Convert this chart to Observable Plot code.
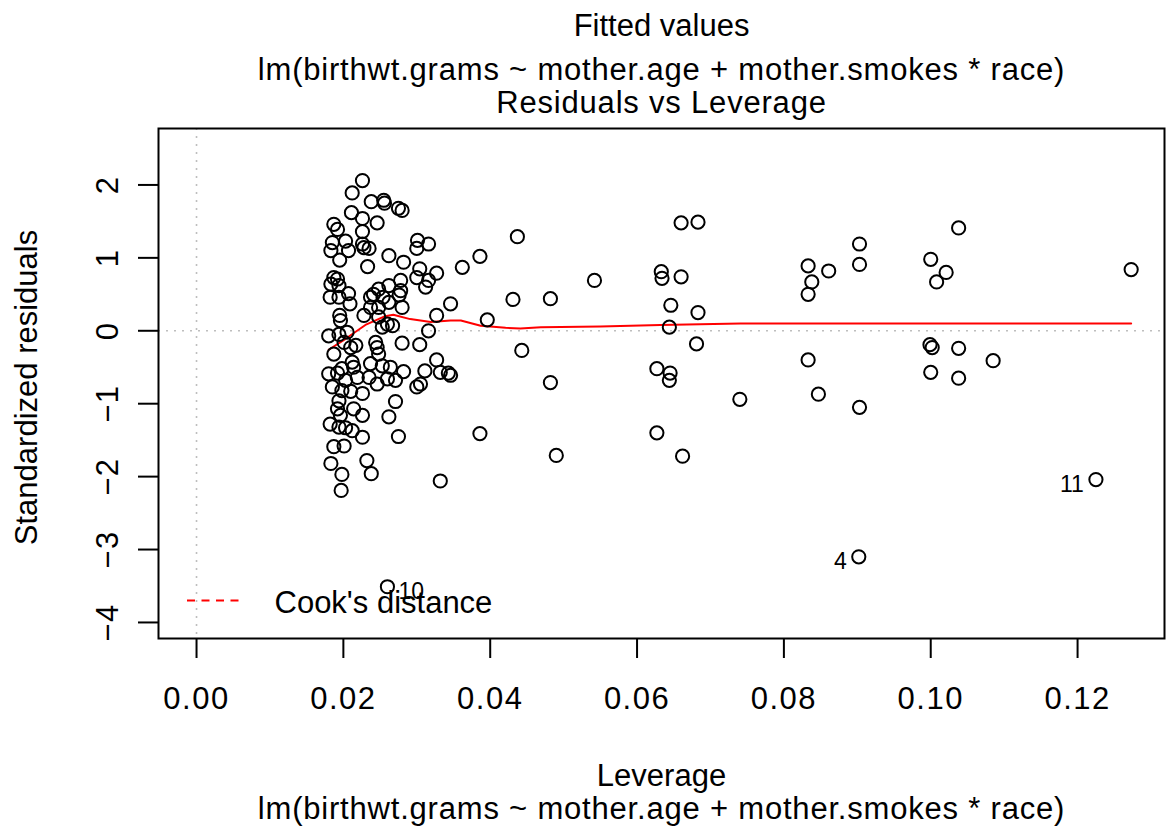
<!DOCTYPE html>
<html>
<head>
<meta charset="utf-8">
<script src="https://cdn.jsdelivr.net/npm/d3@7"></script>
<script src="https://cdn.jsdelivr.net/npm/@observablehq/plot@0.6"></script>
<style>
  body { margin: 0; background: #ffffff; }
  svg { display: block; }
</style>
</head>
<body>
<div id="chart"></div>
<script>
// Residuals vs Leverage diagnostic for
// lm(birthwt.grams ~ mother.age + mother.smokes * race)

// Case ids of the three flagged observations (first three entries below)
const flaggedIds = ["10", "4", "11"];

// Leverage (hat values) of each observation
const leverage = [
  0.0260, 0.0902, 0.1225,
  0.0833, 0.0861, 0.0838, 0.0833, 0.0903, 0.0903, 0.1000, 0.1021, 0.1008, 0.1038,
  0.1273, 0.0833, 0.0847, 0.0903, 0.0999, 0.1002, 0.1038, 0.1085, 0.1000, 0.1038,
  0.0362, 0.0386, 0.0437, 0.0396, 0.0431, 0.0482, 0.0542, 0.0443, 0.0482, 0.0386,
  0.0490, 0.0660, 0.0683, 0.0633, 0.0634, 0.0660, 0.0646, 0.0683, 0.0644, 0.0681,
  0.0627, 0.0645, 0.0644, 0.0627, 0.0662, 0.0740,
  0.0226, 0.0212, 0.0238, 0.0255, 0.0256, 0.0275, 0.0280, 0.0211, 0.0226, 0.0246,
  0.0187, 0.0192, 0.0226, 0.0185, 0.0203, 0.0226, 0.0228, 0.0235, 0.0183, 0.0207,
  0.0301, 0.0316, 0.0300, 0.0195, 0.0262, 0.0282, 0.0233, 0.0304, 0.0327, 0.0300,
  0.0316, 0.0312, 0.0187, 0.0192, 0.0183, 0.0194, 0.0182, 0.0194, 0.0207, 0.0209,
  0.0278, 0.0262, 0.0248, 0.0241, 0.0237, 0.0276, 0.0278, 0.0254, 0.0262, 0.0237,
  0.0248, 0.0280, 0.0346, 0.0327, 0.0228, 0.0248, 0.0195, 0.0196, 0.0260, 0.0267,
  0.0253, 0.0316, 0.0180, 0.0194, 0.0205,
  0.0201, 0.0217, 0.0210, 0.0187, 0.0244, 0.0246, 0.0248, 0.0280, 0.0304, 0.0327,
  0.0311, 0.0332, 0.0343, 0.0346, 0.0305, 0.0300, 0.0282, 0.0271, 0.0260, 0.0246,
  0.0264, 0.0253, 0.0237, 0.0235, 0.0212, 0.0214, 0.0198, 0.0192, 0.0180, 0.0203,
  0.0219, 0.0185, 0.0198, 0.0210, 0.0226, 0.0194, 0.0271, 0.0192, 0.0214, 0.0226,
  0.0262, 0.0196, 0.0182, 0.0194, 0.0203, 0.0212, 0.0226, 0.0275, 0.0187, 0.0201,
  0.0183, 0.0232, 0.0198, 0.0238, 0.0332, 0.0197
];

// Standardized residuals, same order as leverage
const stdResid = [
  -3.51, -3.10, -2.04,
  0.89, 0.82, 0.67, 0.50, 1.19, 0.91, 0.98, 0.80, 0.67, 1.41,
  0.84, -0.40, -0.87, -1.05, -0.19, -0.23, -0.24, -0.41, -0.57, -0.65,
  0.87, 1.02, 1.29, 0.15, 0.43, 0.44, 0.69, -0.27, -0.71, -1.41,
  -1.71, 1.48, 1.49, 0.81, 0.72, 0.74, 0.35, 0.25, 0.05, -0.18,
  -0.52, -0.58, -0.68, -1.40, -1.72, -0.94,
  2.06, 1.89, 1.77, 1.79, 1.75, 1.68, 1.65, 1.62, 1.54, 1.48,
  1.46, 1.39, 1.36, 1.21, 1.23, 1.19, 1.14, 1.13, 1.10, 1.10,
  1.24, 1.19, 1.13, 0.97, 1.03, 0.94, 0.88, 0.85, 0.79, 0.73,
  0.69, 0.60, 0.73, 0.71, 0.64, 0.62, 0.46, 0.46, 0.51, 0.37,
  0.69, 0.62, 0.57, 0.50, 0.46, 0.49, 0.55, 0.46, 0.39, 0.32,
  0.32, 0.32, 0.37, 0.21, 0.21, 0.19, 0.21, 0.14, 0.09, 0.07,
  0.05, 0.00, -0.07, -0.05, -0.02,
  -0.16, -0.20, -0.23, -0.32, -0.16, -0.23, -0.32, -0.17, -0.19, -0.40,
  -0.55, -0.57, -0.58, -0.61, -0.73, -0.77, -0.56, -0.68, -0.66, -0.73,
  -0.50, -0.48, -0.45, -0.64, -0.43, -0.50, -0.52, -0.58, -0.59, -0.68,
  -0.64, -0.77, -0.82, -0.83, -0.86, -0.96, -0.97, -1.07, -1.07, -1.16,
  -1.18, -1.16, -1.28, -1.32, -1.33, -1.37, -1.46, -1.45, -1.59, -1.58,
  -1.82, -1.78, -1.97, -1.96, -2.06, -2.19
];

// Smoothed trend of the residuals against leverage
const smoothLeverage = [0.0180, 0.0203, 0.0230, 0.0257, 0.0268, 0.0291, 0.0319, 0.0346, 0.0360,
  0.0387, 0.0421, 0.0441, 0.0469, 0.0550, 0.0632, 0.0686, 0.0741, 0.0900, 0.1100, 0.1273];
const smoothResid = [-0.26, -0.11, 0.08, 0.20, 0.22, 0.16, 0.12, 0.14, 0.14,
  0.07, 0.04, 0.03, 0.05, 0.06, 0.08, 0.09, 0.10, 0.10, 0.10, 0.10];

const xTicks = [0.00, 0.02, 0.04, 0.06, 0.08, 0.10, 0.12];
const yTicks = [-4, -3, -2, -1, 0, 1, 2];

const modelText = "lm(birthwt.grams ~ mother.age + mother.smokes * race)";
const titleLines = ["Fitted values", modelText, "Residuals vs Leverage"];
const xTitleLines = ["Leverage", modelText];
const yTitle = "Standardized residuals";
const legendText = "Cook's distance";

// Tables built from the arrays above
const points = leverage.map((h, i) => ({h, r: stdResid[i]}));
const flagged = flaggedIds.map((id, i) => ({
  id, h: leverage[i], r: stdResid[i],
  right: leverage[i] < 0.065
}));
const smooth = smoothLeverage.map((h, i) => ({h, r: smoothResid[i]}));

const FONT = "'Liberation Sans', Arial, Helvetica, sans-serif";
const FS = 31;

// Dashed red sample line of the legend, placed in the lower-left of the frame
function legendLine(index, scales, values, dims) {
  const yy = dims.height - dims.marginBottom - 37.5;
  return d3.create("svg:line")
    .attr("x1", dims.marginLeft + 29)
    .attr("x2", dims.marginLeft + 84)
    .attr("y1", yy).attr("y2", yy)
    .attr("stroke", "red")
    .attr("stroke-width", 2)
    .attr("stroke-dasharray", "8,6.5")
    .node();
}

const chart = Plot.plot({
  width: 1166,
  height: 831,
  marginLeft: 158,
  marginRight: 2,
  marginTop: 128,
  marginBottom: 193,
  style: {fontFamily: FONT, fontSize: FS + "px", color: "black", background: "white", overflow: "visible"},
  x: {domain: [-0.00518, 0.13184]},
  y: {domain: [-4.22, 2.774]},
  marks: [
    Plot.ruleX([0], {stroke: "#bebebe", strokeWidth: 1.6, strokeDasharray: "2,6"}),
    Plot.ruleY([0], {stroke: "#bebebe", strokeWidth: 1.6, strokeDasharray: "2,6"}),
    Plot.line(smooth, {x: "h", y: "r", stroke: "red", strokeWidth: 2}),
    Plot.dot(points, {x: "h", y: "r", r: 6.6, stroke: "black", strokeWidth: 2, fill: "none"}),
    Plot.text(flagged.filter(d => d.right), {x: "h", y: "r", text: "id", dx: 11, dy: 5, textAnchor: "start", fontSize: 23}),
    Plot.text(flagged.filter(d => !d.right), {x: "h", y: "r", text: "id", dx: -12, dy: 5, textAnchor: "end", fontSize: 23}),
    Plot.frame({stroke: "black", strokeWidth: 2}),
    Plot.axisX({ticks: xTicks, tickFormat: d3.format(".2f"), tickSize: 20, tickPadding: 28, strokeWidth: 2, label: null, fontSize: FS}),
    Plot.axisY({ticks: yTicks, tickFormat: d3.format("d"), tickSize: 20, tickPadding: 21, tickRotate: -90, strokeWidth: 2, label: null, fontSize: FS}),
    // titles above the frame
    Plot.text([titleLines[0]], {frameAnchor: "top", dy: -93, lineAnchor: "bottom", textAnchor: "middle", fontSize: FS}),
    Plot.text([titleLines[1]], {frameAnchor: "top", dy: -49, lineAnchor: "bottom", textAnchor: "middle", fontSize: FS}),
    Plot.text([titleLines[2]], {frameAnchor: "top", dy: -16, lineAnchor: "bottom", textAnchor: "middle", fontSize: FS}),
    // x axis titles
    Plot.text([xTitleLines[0]], {frameAnchor: "bottom", dy: 147, lineAnchor: "bottom", textAnchor: "middle", fontSize: FS}),
    Plot.text([xTitleLines[1]], {frameAnchor: "bottom", dy: 180, lineAnchor: "bottom", textAnchor: "middle", fontSize: FS}),
    // y axis title
    Plot.text([yTitle], {frameAnchor: "left", dx: -122, dy: 4, rotate: -90, lineAnchor: "bottom", textAnchor: "middle", fontSize: FS}),
    // legend
    legendLine,
    Plot.text([legendText], {frameAnchor: "bottom-left", dx: 116, dy: -26, lineAnchor: "bottom", textAnchor: "start", fontSize: FS})
  ]
});

// Slightly looser spacing for the model formula lines, the sub-title and the tick labels
const svg = d3.select(chart);
svg.selectAll("text")
  .filter(function () { return this.textContent === modelText || this.textContent === titleLines[2]; })
  .attr("letter-spacing", "0.8px");
svg.selectAll('g[aria-label="x-axis tick label"] text').attr("letter-spacing", "1.5px");
svg.selectAll('g[aria-label="y-axis tick label"] text').attr("letter-spacing", "1.5px");

document.getElementById("chart").appendChild(chart);
</script>
</body>
</html>
